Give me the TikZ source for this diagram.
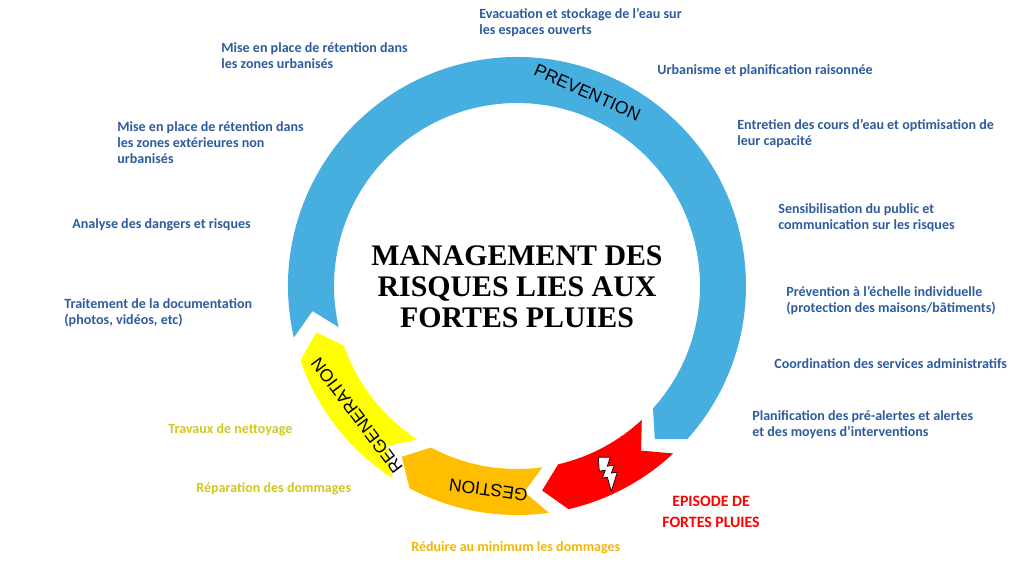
\documentclass[tikz,border=0pt]{standalone}
\usepackage{fontspec}
\setmainfont{Carlito}
\newfontfamily\titlefont{Liberation Serif}
\newfontfamily\bandfont{Liberation Sans}
\definecolor{prevblue}{HTML}{47AEE0}
\definecolor{textblue}{HTML}{2E5C9E}
\definecolor{gestorange}{HTML}{FFBF00}
\definecolor{regyellow}{HTML}{FFFF00}
\definecolor{regtext}{HTML}{D2C81E}
\definecolor{gesttext}{HTML}{F2B705}
\definecolor{evred}{HTML}{FF0000}
\tikzset{
  note/.style = {anchor=north west, align=left, inner sep=0pt, font=\fontsize{8}{9.2}\selectfont\bfseries},
  band/.style = {font=\bandfont\fontsize{10}{12}\selectfont, inner sep=0pt},
}
\begin{document}
\begin{tikzpicture}[x=0.02cm, y=0.02cm]
  \useasboundingbox (0,0) rectangle (1024,576);
  \begin{scope}[shift={(517,290)}]
    % chevrons of the ring: notch at \a, point at \b
    \foreach \col/\a/\b/\c/\d in {prevblue/193/-42/187/-48, evred/-47/-77/-53/-83,
        gestorange/-82/-118/-88/-124, regyellow/-123/-161/-129/-167}
      \fill[fill=\col] (\a:229) arc[start angle=\a, end angle=\b, radius=229]
        -- (\d:206) -- (\b:183) arc[start angle=\b, end angle=\a, radius=183]
        -- (\c:206) -- cycle;
    \node[band, rotate=-24] (prev) at (70:206) {PREVENTION};
    \node[band, rotate=172] (gest) at (-98:206) {GESTION};
    \node[band, rotate=127] (regen) at (-141:206) {REGENERATION};
    % lightning
    \filldraw[fill=white, draw=black, line width=0.4pt, shift={(-64:206)}]
      (-9,14) -- (3,14) -- (0,5) -- (7,6) -- (4,-2) -- (10,-1) -- (4,-20)
      -- (0,-6) -- (-5,-7) -- (-2,1) -- (-8,0) -- cycle;
  \end{scope}
  \node[font=\titlefont\fontsize{17}{17.6}\selectfont\bfseries, align=center] (title)
    at (517,289) {MANAGEMENT DES\\RISQUES LIES AUX\\FORTES PLUIES};
  \begin{scope}[text=textblue]
    \node[note] (n1) at (479,568) {Evacuation et stockage de l'eau sur\\les espaces ouverts};
    \node[note] (n2) at (221,534) {Mise en place de rétention dans\\les zones urbanisés};
    \node[note] (n3) at (657,512) {Urbanisme et planification raisonnée};
    \node[note] (n4) at (117,455) {Mise en place de rétention dans\\les zones extérieures non\\urbanisés};
    \node[note] (n5) at (737,457) {Entretien des cours d'eau et optimisation de\\leur capacité};
    \node[note] (n6) at (72,358) {Analyse des dangers et risques};
    \node[note] (n7) at (778,373) {Sensibilisation du public et\\communication sur les risques};
    \node[note] (n8) at (64,278) {Traitement de la documentation\\(photos, vidéos, etc)};
    \node[note] (n9) at (786,290) {Prévention à l'échelle individuelle\\(protection des maisons/bâtiments)};
    \node[note] (n10) at (774,218) {Coordination des services administratifs};
    \node[note] (n11) at (752,166) {Planification des pré-alertes et alertes\\et des moyens d'interventions};
  \end{scope}
  \node[note, text=regtext] (r1) at (168,153) {Travaux de nettoyage};
  \node[note, text=regtext] (r2) at (196,94) {Réparation des dommages};
  \node[note, text=gesttext] (g1) at (411,35) {Réduire au minimum les dommages};
  \node[font=\fontsize{9}{12}\selectfont\bfseries, text=evred, align=center, inner sep=0pt]
    (ev) at (711,64) {EPISODE DE\\FORTES PLUIES};
\end{tikzpicture}
\end{document}
